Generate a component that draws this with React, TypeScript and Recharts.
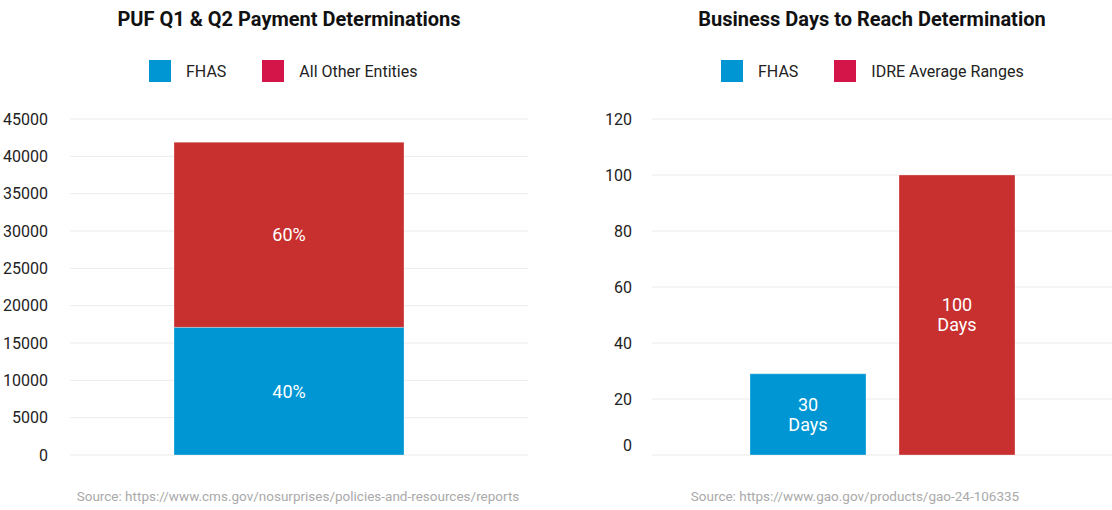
import { Bar, BarChart, CartesianGrid, LabelList, Legend, XAxis, YAxis } from "recharts";

const font = "Roboto, 'Noto Sans', sans-serif";

// left chart: PUF determinations
const pufCategories = ["PUF Q1 & Q2"];
const pufFhas = [17100];
const pufOther = [24800];
const pufLabels = ["40%", "60%"];
const pufTicks = [0, 5000, 10000, 15000, 20000, 25000, 30000, 35000, 40000, 45000];

// right chart: business days
const daysCategories = ["Business Days"];
const daysFhas = [29];
const daysIdre = [100];
const daysLabels = ["30 Days", "100 Days"];
const daysTicks = [0, 20, 40, 60, 80, 100, 120];

const BLUE = "#0096d3";
const RED = "#c83030";
const LEGEND_RED = "#d4154a";

const pufData = pufCategories.map((name, i) => ({ name, fhas: pufFhas[i], other: pufOther[i] }));
const daysData = daysCategories.map((name, i) => ({ name, fhas: daysFhas[i], idre: daysIdre[i] }));

function LegendBox({ items }: { items: { label: string; color: string }[] }) {
  return (
    <div style={{ display: "flex", alignItems: "center", fontFamily: font, fontSize: 16, color: "#222" }}>
      {items.map((it, i) => (
        <div key={it.label} style={{ display: "flex", alignItems: "center", marginLeft: i ? 36 : 0 }}>
          <span style={{ width: 22, height: 22, background: it.color, display: "inline-block", marginRight: 15 }} />
          <span>{it.label}</span>
        </div>
      ))}
    </div>
  );
}

function makeTick(lift0: number) {
  return (props: any) => {
    const { x, y, payload } = props;
    const dy = payload.value === 0 ? -lift0 : 0;
    return (
      <text x={x} y={y + dy} dy="0.36em" textAnchor="end" fontFamily={font} fontSize={16} fill="#222">
        {payload.value}
      </text>
    );
  };
}

function MultiLineLabel(props: any) {
  const { x, y, width, height, value } = props;
  const lines = String(value).split(" ");
  const cx = x + width / 2;
  const cy = y + height / 2;
  const lh = 20;
  const start = cy - ((lines.length - 1) * lh) / 2;
  return (
    <text x={cx} y={start} textAnchor="middle" fontFamily={font} fontSize={18} fill="#fff">
      {lines.map((l, i) => (
        <tspan key={i} x={cx} y={start + i * lh} dy="0.36em">
          {l}
        </tspan>
      ))}
    </text>
  );
}

function Title({ text, center }: { text: string; center: number }) {
  return (
    <div
      style={{
        position: "absolute",
        top: 6,
        left: center - 278,
        width: 556,
        textAlign: "center",
        fontFamily: font,
        fontWeight: 700,
        fontSize: 20,
        lineHeight: "26px",
        color: "#111",
      }}
    >
      {text}
    </div>
  );
}

function Source({ text, center }: { text: string; center: number }) {
  return (
    <div
      style={{
        position: "absolute",
        top: 487,
        left: center - 278,
        width: 556,
        textAlign: "center",
        fontFamily: font,
        fontSize: 13.5,
        lineHeight: "18px",
        color: "#aaa",
      }}
    >
      {text}
    </div>
  );
}

export default function App() {
  return (
    <div style={{ position: "absolute", left: 0, top: 0, width: 1112, height: 510, background: "#fff" }}>
      <Title text="PUF Q1 & Q2 Payment Determinations" center={289} />
      <Title text="Business Days to Reach Determination" center={872} />

      <div style={{ position: "absolute", left: 0, top: 0 }}>
        <BarChart width={556} height={510} data={pufData} margin={{ top: 119, right: 28, bottom: 55, left: 10 }}>
          <CartesianGrid vertical={false} stroke="#ebebeb" />
          <XAxis
            dataKey="name"
            tick={false}
            tickLine={false}
            height={0}
            padding={{ left: 0, right: 20 }}
            stroke="#d4d4d4"
            strokeWidth={2}
          />
          <YAxis
            domain={[0, 45000]}
            ticks={pufTicks}
            width={60}
            axisLine={false}
            tickLine={false}
            tick={makeTick(0)}
            tickMargin={16}
          />
          <Legend
            verticalAlign="middle"
            align="center"
            layout="horizontal"
            wrapperStyle={{ top: 60, left: 149, width: "auto" }}
            content={() => (
              <LegendBox
                items={[
                  { label: "FHAS", color: BLUE },
                  { label: "All Other Entities", color: LEGEND_RED },
                ]}
              />
            )}
          />
          <Bar dataKey="fhas" stackId="a" fill={BLUE} barSize={230} stroke="rgba(255,255,255,0.3)" isAnimationActive={false}>
            <LabelList dataKey="fhas" content={(p: any) => <MultiLineLabel {...p} value={pufLabels[0]} />} />
          </Bar>
          <Bar dataKey="other" stackId="a" fill={RED} barSize={230} stroke="rgba(255,255,255,0.3)" isAnimationActive={false}>
            <LabelList dataKey="other" content={(p: any) => <MultiLineLabel {...p} value={pufLabels[1]} />} />
          </Bar>
        </BarChart>
      </div>

      <div style={{ position: "absolute", left: 556, top: 0 }}>
        <BarChart
          width={556}
          height={510}
          data={daysData}
          margin={{ top: 119, right: 0, bottom: 55, left: 16 }}
          barGap={33}
        >
          <CartesianGrid vertical={false} stroke="#ebebeb" />
          <XAxis dataKey="name" tick={false} tickLine={false} height={0} stroke="#d4d4d4" strokeWidth={2} />
          <YAxis
            domain={[0, 120]}
            ticks={daysTicks}
            width={80}
            axisLine={false}
            tickLine={false}
            tick={makeTick(10)}
            tickMargin={14}
          />
          <Legend
            verticalAlign="middle"
            align="center"
            layout="horizontal"
            wrapperStyle={{ top: 60, left: 165, width: "auto" }}
            content={() => (
              <LegendBox
                items={[
                  { label: "FHAS", color: BLUE },
                  { label: "IDRE Average Ranges", color: LEGEND_RED },
                ]}
              />
            )}
          />
          <Bar dataKey="fhas" fill={BLUE} barSize={116} stroke="rgba(255,255,255,0.3)" isAnimationActive={false}>
            <LabelList dataKey="fhas" content={(p: any) => <MultiLineLabel {...p} value={daysLabels[0]} />} />
          </Bar>
          <Bar dataKey="idre" fill={RED} barSize={116} stroke="rgba(255,255,255,0.3)" isAnimationActive={false}>
            <LabelList dataKey="idre" content={(p: any) => <MultiLineLabel {...p} value={daysLabels[1]} />} />
          </Bar>
        </BarChart>
      </div>

      <Source text="Source: https://www.cms.gov/nosurprises/policies-and-resources/reports" center={298} />
      <Source text="Source: https://www.gao.gov/products/gao-24-106335" center={855} />
    </div>
  );
}
